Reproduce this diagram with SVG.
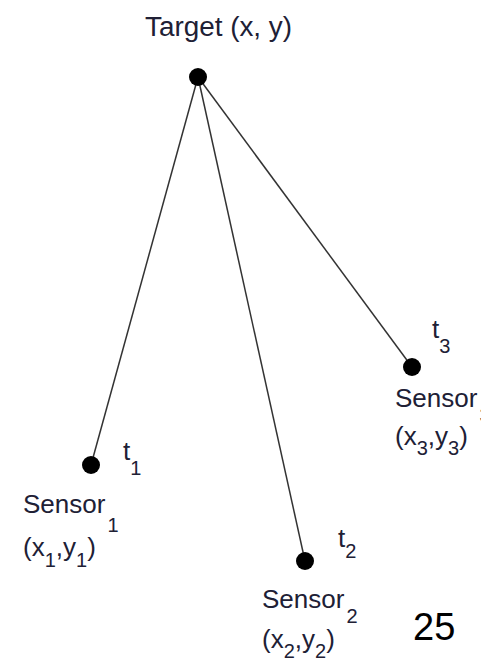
<svg xmlns="http://www.w3.org/2000/svg" width="481" height="659" viewBox="0 0 481 659">
<style>
.lbl{font-family:"Liberation Sans",Arial,sans-serif;font-size:26px;fill:#202035}
.sub{font-size:20px}
.edge{stroke:#333;stroke-width:1.5;fill:none}
.dot{fill:#000}
</style>
<rect width="481" height="659" fill="#fff"/>
<g id="connectors">
<line class="edge" x1="198" y1="77" x2="91" y2="465"/>
<line class="edge" x1="198" y1="77" x2="305" y2="561"/>
<line class="edge" x1="198" y1="77" x2="412" y2="367"/>
</g>
<g id="target">
<circle class="dot" cx="198" cy="77" r="9"/>
<text class="lbl" x="145" y="36" style="font-size:27px" textLength="147" lengthAdjust="spacingAndGlyphs">Target (x, y)</text>
</g>
<g id="sensor1">
<circle class="dot" cx="91" cy="465" r="9"/>
<text class="lbl" x="123" y="460">t<tspan class="sub" dy="15">1</tspan></text>
<text class="lbl" x="23" y="513">Sensor<tspan class="sub" dx="2" dy="19">1</tspan></text>
<text class="lbl" x="23" y="556">(x<tspan class="sub" dy="11">1</tspan><tspan dy="-11">,y</tspan><tspan class="sub" dy="11">1</tspan><tspan dy="-11">)</tspan></text>
</g>
<g id="sensor2">
<circle class="dot" cx="305" cy="561" r="9"/>
<text class="lbl" x="338" y="547">t<tspan class="sub" dy="11">2</tspan></text>
<text class="lbl" x="262" y="608">Sensor<tspan class="sub" dx="2" dy="15">2</tspan></text>
<text class="lbl" x="262" y="648">(x<tspan class="sub" dy="10">2</tspan><tspan dy="-10">,y</tspan><tspan class="sub" dy="10">2</tspan><tspan dy="-10">)</tspan></text>
</g>
<g id="sensor3">
<circle class="dot" cx="412" cy="367" r="9"/>
<text class="lbl" x="432" y="338">t<tspan class="sub" dy="15">3</tspan></text>
<text class="lbl" x="395" y="407">Sensor<tspan class="sub" dx="2" dy="15">3</tspan></text>
<text class="lbl" x="395" y="445">(x<tspan class="sub" dy="10">3</tspan><tspan dy="-10">,y</tspan><tspan class="sub" dy="10">3</tspan><tspan dy="-10">)</tspan></text>
</g>
<g id="page-number">
<text x="413" y="640" style="font-family:'Liberation Sans',Arial,sans-serif;font-size:38px;fill:#000">25</text>
</g>
</svg>
